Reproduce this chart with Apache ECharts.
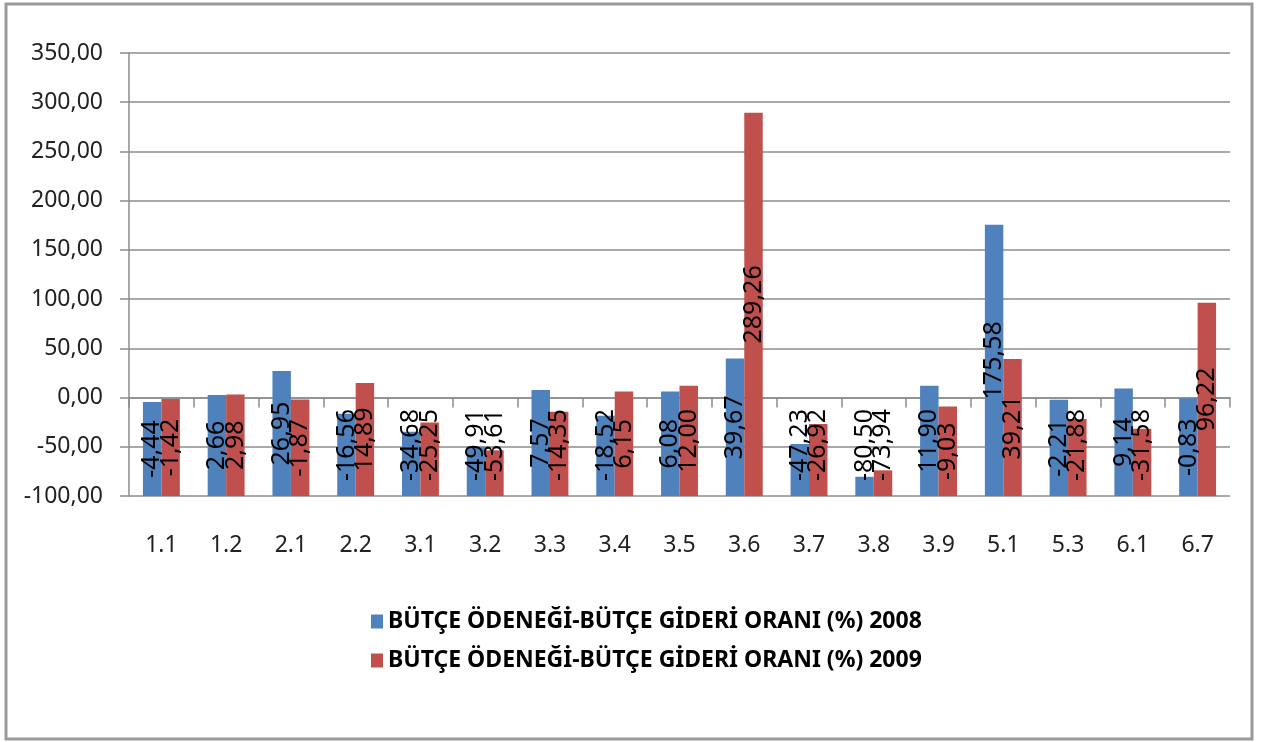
<!DOCTYPE html>
<html>
<head>
<meta charset="utf-8">
<script src="https://cdn.jsdelivr.net/npm/echarts@6/dist/echarts.min.js"></script>
<style>
  html, body { margin: 0; padding: 0; background: #fff; }
  #main { width: 1263px; height: 742px; }
</style>
</head>
<body>
<div id="main"></div>
<script>
var categories = ['1.1', '1.2', '2.1', '2.2', '3.1', '3.2', '3.3', '3.4', '3.5', '3.6', '3.7', '3.8', '3.9', '5.1', '5.3', '6.1', '6.7'];
var values2008 = [-4.44, 2.66, 26.95, -16.56, -34.68, -49.91, 7.57, -18.52, 6.08, 39.67, -47.23, -80.50, 11.90, 175.58, -2.21, 9.14, -0.83];
var values2009 = [-1.42, 2.98, -1.87, 14.89, -25.25, -53.61, -14.35, 6.15, 12.00, 289.26, -26.92, -73.94, -9.03, 39.21, -21.88, -31.58, 96.22];
var seriesNames = ['BÜTÇE ÖDENEĞİ-BÜTÇE GİDERİ ORANI (%) 2008', 'BÜTÇE ÖDENEĞİ-BÜTÇE GİDERİ ORANI (%) 2009'];

var chartDom = document.getElementById('main');
var myChart = echarts.init(chartDom);
var option;

// 350,00 style numbers
function trNum(v) {
  return Number(v).toFixed(2).replace('.', ',');
}

var barLabel = {
  show: true,
  position: 'inside',
  rotate: 90,
  color: '#000',
  fontFamily: 'Noto Sans',
  fontSize: 25,
  width: 84,
  overflow: 'none',
  formatter: function (p) { return trNum(p.value); }
};

option = {
  animation: false,
  backgroundColor: '#fff',
  graphic: [{
    type: 'rect',
    shape: { x: 6, y: 4, width: 1246, height: 735 },
    style: { fill: 'none', stroke: '#9a9a9a', lineWidth: 3 },
    silent: true
  }],
  grid: { left: 129, right: 33, top: 53, bottom: 246 },
  legend: {
    orient: 'vertical',
    left: 366,
    top: 605,
    itemWidth: 12,
    itemHeight: 14,
    itemGap: 16,
    icon: 'rect',
    textStyle: { fontFamily: 'Noto Sans', fontSize: 23, fontWeight: 'bold', color: '#000' },
    data: seriesNames
  },
  xAxis: {
    type: 'category',
    data: categories,
    axisLine: { lineStyle: { color: '#8c8c8c', width: 1.5 } },
    axisTick: { show: true, length: 10, lineStyle: { color: '#8c8c8c', width: 1.5 } },
    axisLabel: { color: '#222', fontFamily: 'Noto Sans', fontSize: 23, margin: 38 }
  },
  yAxis: {
    type: 'value',
    min: -100,
    max: 350,
    interval: 50,
    startValue: -100,
    axisLine: { show: true, lineStyle: { color: '#8c8c8c', width: 1.5 } },
    axisTick: { show: true, length: 9, lineStyle: { color: '#8c8c8c', width: 1.5 } },
    splitLine: { lineStyle: { color: '#8c8c8c', width: 1.5 } },
    axisLabel: { color: '#222', fontFamily: 'Noto Sans', fontSize: 23, margin: 26, formatter: trNum }
  },
  // centre label on its bar, but keep labels that do not fit off the bottom
  // of the plot, like the original (label is turned 90deg, so its own x runs upwards)
  labelLayout: function (params) {
    var r = params.labelRect;
    var bar = params.rect;
    var limit = 481;
    var want = Math.min(bar.y + bar.height / 2, limit - r.height / 2);
    var now = r.y + r.height / 2;
    return { dx: now - want };
  },
  series: [
    {
      name: seriesNames[0],
      type: 'bar',
      data: values2008,
      barGap: 0,
      barCategoryGap: '43%',
      itemStyle: { color: '#4F81BD' },
      label: barLabel
    },
    {
      name: seriesNames[1],
      type: 'bar',
      data: values2009,
      barGap: 0,
      barCategoryGap: '43%',
      itemStyle: { color: '#C0504D' },
      label: barLabel
    }
  ]
};

option && myChart.setOption(option);
</script>
</body>
</html>
